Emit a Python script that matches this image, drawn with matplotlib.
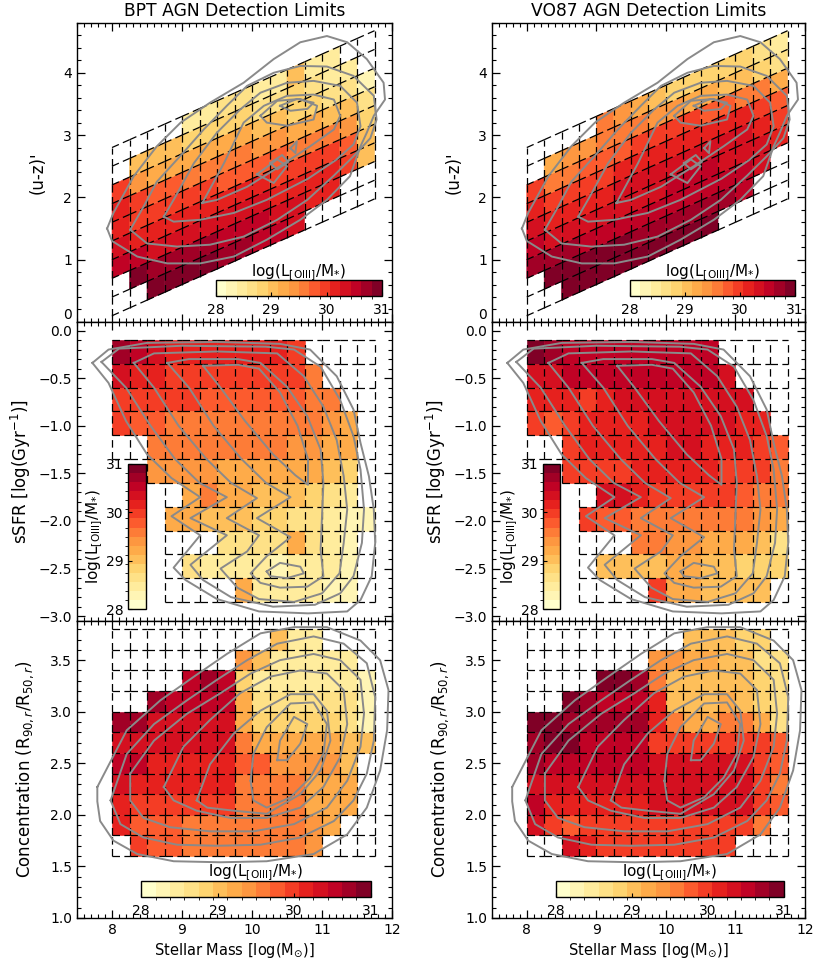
import numpy as np
import matplotlib
matplotlib.use('Agg')
import matplotlib.pyplot as plt
from matplotlib.collections import PolyCollection, LineCollection
from matplotlib.colors import BoundaryNorm
from matplotlib.cm import ScalarMappable
from matplotlib.ticker import MultipleLocator

_ = None

# log(L[OIII]/M*) per bin, 15 mass bins (8.0 -> 11.75, 0.25 dex)
# (u-z)' panels: rows bottom -> top (sheared bins)
uz_bpt = [
    [_, _, 30.9, 30.9, 30.9, 30.9, 30.8, 30.7, 30.6, 30.6, 30.4, _, _, _, _],
    [_, 30.9, 30.8, 30.8, 30.8, 30.7, 30.6, 30.5, 30.5, 30.4, 30.3, 30.2, 30.2, _, _],
    [30.5, 30.6, 30.4, 30.4, 30.4, 30.4, 30.3, 30.3, 30.3, 30.2, 30.2, 30.2, 30.1, 30.0, 29.1],
    [30.3, 30.2, 30.2, 30.2, 30.2, 30.2, 30.1, 30.1, 30.1, 30.0, 30.0, 30.0, 29.9, 29.8, 29.0],
    [30.2, 30.0, 30.0, 29.9, 29.9, 29.9, 29.8, 29.8, 29.8, 29.7, 29.6, 29.6, 29.5, 29.4, 28.9],
    [30.2, 29.9, 29.7, 29.7, 29.6, 29.6, 29.5, 29.5, 29.4, 29.4, 29.3, 29.2, 29.1, 29.0, 28.6],
    [30.0, 29.4, 29.3, 29.3, 29.3, 29.3, 29.2, 29.2, 29.1, 29.0, 28.9, 28.8, 28.7, 28.6, 28.3],
    [_, 29.1, 29.1, 29.0, 28.9, 28.9, 28.8, 28.8, 28.7, 28.7, 28.8, 28.6, 28.5, 28.4, _],
    [_, _, _, _, 28.5, 28.5, 28.6, 28.6, 28.5, 28.5, 29.1, 28.5, 28.4, _, _],
]
uz_vo87 = [
    [_, _, 31.0, 31.0, 31.0, 31.0, 31.0, 30.9, 30.9, 30.9, 30.9, _, _, _, _],
    [_, 30.9, 30.9, 30.9, 30.9, 30.9, 30.8, 30.8, 30.8, 30.8, 30.7, 30.7, 30.6, _, _],
    [30.8, 30.7, 30.7, 30.6, 30.6, 30.6, 30.6, 30.6, 30.6, 30.6, 30.6, 30.5, 30.5, 30.4, _],
    [30.6, 30.4, 30.4, 30.4, 30.4, 30.4, 30.4, 30.4, 30.5, 30.5, 30.5, 30.4, 30.4, 30.3, 30.2],
    [30.4, 30.2, 30.2, 30.2, 30.2, 30.3, 30.3, 30.3, 30.3, 30.3, 30.3, 30.3, 30.3, 30.2, 30.0],
    [30.2, 30.0, 30.0, 30.0, 30.0, 30.1, 30.2, 30.2, 30.2, 30.2, 30.2, 30.2, 30.1, 30.0, 29.8],
    [30.0, 29.6, 29.6, 29.7, 29.7, 29.8, 29.9, 29.9, 29.9, 29.9, 29.8, 29.7, 29.6, 29.5, 29.3],
    [_, 29.2, 29.4, 29.4, 29.5, 29.5, 29.5, 29.4, 29.4, 29.3, 29.2, 29.1, 29.0, 28.9, 28.6],
    [_, _, _, _, 29.5, 29.4, 29.3, 29.1, 28.9, 28.8, 28.8, 28.8, 28.8, 28.7, 28.5],
]

# sSFR panels: rows top (-0.1) -> bottom, 0.25 dex high
ssfr_bpt = [
    [30.7, 30.5, 30.3, 30.1, 30.1, 30.1, 30.1, 30.1, 30.1, 30.1, 30.0, _, _, _, _],
    [30.3, 30.2, 30.1, 30.0, 30.0, 29.9, 29.9, 29.9, 29.9, 29.9, 29.9, 29.5, _, _, _],
    [30.0, 29.9, 29.9, 29.9, 29.9, 29.8, 29.8, 29.8, 29.8, 29.8, 29.8, 29.5, 29.5, _, _],
    [29.9, 29.8, 29.7, 29.6, 29.6, 29.6, 29.6, 29.6, 29.6, 29.6, 29.5, 29.5, 29.4, 29.3, _],
    [_, _, 29.6, 29.5, 29.5, 29.5, 29.5, 29.5, 29.5, 29.5, 29.4, 29.4, 29.3, 29.2, _],
    [_, _, 29.4, 29.4, 29.4, 29.4, 29.3, 29.3, 29.3, 29.3, 29.3, 29.2, 29.0, 28.9, _],
    [_, _, _, _, 29.3, 29.6, 29.3, 29.2, 29.1, 29.1, 29.0, 28.9, 28.7, 28.5, _],
    [_, _, _, 29.3, 29.2, 29.1, 29.0, 29.0, 28.9, 28.8, 28.7, 28.6, 28.5, 28.3, 28.2],
    [_, _, _, _, _, _, 28.7, 28.7, 28.7, 28.7, 29.2, 28.6, 28.4, 28.3, _],
    [_, _, _, _, 28.6, 28.5, 28.5, 28.5, 28.4, 28.3, 28.4, 28.4, 28.4, 28.3, _],
    [_, _, _, _, _, _, _, 29.2, 28.5, 28.5, 28.4, 28.4, 28.3, 28.2, _],
]
ssfr_vo87 = [
    [30.9, 30.8, 30.6, 30.6, 30.6, 30.5, 30.5, 30.5, 30.5, 30.6, 30.6, _, _, _, _],
    [30.4, 30.4, 30.5, 30.5, 30.5, 30.5, 30.5, 30.5, 30.5, 30.5, 30.5, 30.4, _, _, _],
    [30.2, 30.2, 30.2, 30.0, 30.2, 30.3, 30.3, 30.4, 30.4, 30.4, 30.4, 30.4, 30.4, _, _],
    [29.9, 29.8, 30.0, 30.1, 30.1, 30.2, 30.2, 30.3, 30.3, 30.3, 30.3, 30.3, 30.2, 30.2, _],
    [_, _, 30.0, 30.1, 30.1, 30.1, 30.2, 30.2, 30.3, 30.3, 30.2, 30.2, 30.1, 30.0, 29.7],
    [_, _, 29.9, 29.9, 30.0, 30.0, 30.1, 30.1, 30.2, 30.2, 30.1, 30.0, 30.0, 29.9, 29.6],
    [_, _, _, _, 30.3, 30.4, 30.1, 30.0, 30.0, 30.0, 30.0, 29.9, 29.8, 29.6, 29.5],
    [_, _, _, 29.9, 29.7, 29.7, 29.6, 29.6, 29.6, 29.6, 29.6, 29.5, 29.5, 29.4, 29.3],
    [_, _, _, _, _, _, 29.5, 29.5, 29.4, 29.4, 29.3, 29.3, 29.2, 29.1, 28.6],
    [_, _, _, _, 29.0, 29.0, 29.1, 29.1, 29.2, 29.2, 29.0, 29.0, 28.9, 28.8, 28.8],
    [_, _, _, _, _, _, _, 29.9, 29.2, 29.2, 29.1, 29.1, 29.0, 29.0, _],
]
ssfr_grid_first_col = [0, 0, 0, 0, 0, 2, 3, 3, 3, 3, 3]

# concentration panels: rows bottom (1.6) -> top, 0.2 high
conc_bpt = [
    [_, 30.0, 29.8, 29.8, 29.5, 29.5, 29.5, 29.5, 29.5, 29.5, 29.5, 29.4, _, _, _],
    [30.1, 29.7, 29.7, 29.7, 29.5, 29.5, 29.5, 29.5, 29.5, 29.5, 29.5, 29.4, 29.2, _, _],
    [30.1, 29.9, 29.9, 29.9, 29.9, 29.9, 29.9, 29.6, 29.6, 29.6, 29.6, 29.2, 29.2, 29.2, _],
    [30.3, 30.1, 30.1, 30.1, 30.1, 30.1, 30.1, 29.6, 29.6, 29.6, 29.6, 29.2, 29.2, 29.2, _],
    [30.5, 30.5, 30.2, 30.2, 30.2, 30.2, 30.2, 29.8, 29.8, 29.4, 29.4, 29.4, 29.4, 29.1, _],
    [30.4, 30.4, 30.3, 30.3, 30.3, 30.3, 30.3, 29.6, 29.2, 29.2, 29.2, 29.2, 29.2, 29.0, 29.0],
    [30.8, 30.8, 30.4, 30.4, 30.4, 30.4, 30.4, 29.3, 28.9, 28.9, 28.9, 28.9, 28.9, 28.6, 28.3],
    [_, _, 30.7, 30.5, 30.5, 30.5, 30.5, 29.2, 28.7, 28.6, 28.6, 28.6, 28.6, 28.6, 28.2],
    [_, _, _, _, 30.6, 30.8, 30.5, 28.8, 28.5, 28.5, 28.5, 28.5, 28.5, 28.5, 28.3],
    [_, _, _, _, _, _, _, 29.4, 29.1, 28.4, 28.4, 28.4, 28.4, 28.4, _],
    [_, _, _, _, _, _, _, _, _, 29.1, 28.4, 28.4, _, _, _],
]
conc_vo87 = [
    [_, _, 30.4, 30.2, 29.9, 29.9, 29.9, 29.9, 29.9, 29.9, 29.9, 29.9, _, _, _],
    [30.4, 29.9, 29.7, 29.9, 30.0, 30.0, 30.0, 30.0, 30.0, 30.0, 30.0, 30.0, 30.0, 29.5, _],
    [30.5, 30.1, 30.1, 30.1, 30.1, 30.1, 30.1, 30.4, 30.4, 30.4, 30.4, 30.4, 30.4, 29.9, 29.7],
    [30.4, 30.4, 30.3, 30.3, 30.3, 30.3, 30.3, 30.4, 30.4, 30.4, 30.4, 30.4, 30.4, 29.9, 29.6],
    [30.8, 30.5, 30.5, 30.5, 30.5, 30.5, 30.5, 30.3, 30.3, 30.3, 30.3, 30.3, 30.3, 30.0, 29.7],
    [30.8, 30.9, 30.9, 30.6, 30.6, 30.6, 30.6, 30.0, 30.0, 30.0, 30.0, 30.0, 30.0, 30.0, 29.7],
    [31.0, 31.0, 30.7, 30.7, 30.7, 30.7, 30.7, 30.1, 29.5, 29.3, 29.3, 29.6, 29.5, 29.3, 28.7],
    [_, _, 30.9, 30.7, 30.6, 30.6, 30.6, 30.1, 29.1, 29.1, 29.1, 29.2, 29.0, 28.8, 28.6],
    [_, _, _, _, 30.9, 30.9, 30.7, 29.6, 29.0, 29.0, 29.0, 29.0, 29.0, 28.8, 28.6],
    [_, _, _, _, _, _, _, 29.4, 29.4, 29.2, 29.2, 29.1, 29.0, 28.7, 28.6],
    [_, _, _, _, _, _, _, _, _, 29.1, 29.0, 29.0, 28.8, 28.8, _],
]

# galaxy density contours (same sample in both columns)
uz_contours = [
    [(7.93, 1.50), (8.02, 1.75), (8.31, 2.34), (8.64, 2.82), (8.98, 3.20), (9.40, 3.52), (9.88, 3.84),
     (10.31, 4.22), (10.69, 4.49), (11.07, 4.59), (11.36, 4.49), (11.64, 4.22), (11.88, 3.84),
     (11.90, 3.57), (11.74, 3.31), (11.64, 3.04), (11.55, 2.82), (11.40, 2.34), (11.07, 1.96),
     (10.69, 1.64), (10.21, 1.32), (9.74, 1.05), (9.26, 0.94), (8.79, 0.94), (8.36, 1.05), (8.00, 1.30)],
    [(8.26, 1.48), (8.45, 1.85), (8.64, 2.25), (9.02, 2.72), (9.31, 3.09), (9.64, 3.47), (9.93, 3.79),
     (10.31, 4.00), (10.69, 4.11), (11.07, 4.10), (11.45, 3.95), (11.74, 3.63), (11.78, 3.25),
     (11.69, 2.95), (11.45, 2.66), (11.17, 2.35), (10.79, 1.96), (10.36, 1.64), (9.88, 1.37),
     (9.40, 1.24), (8.93, 1.21), (8.50, 1.26)],
    [(8.74, 1.69), (8.90, 2.00), (9.17, 2.55), (9.50, 3.04), (9.83, 3.41), (10.12, 3.68), (10.50, 3.84),
     (10.88, 3.87), (11.26, 3.79), (11.50, 3.52), (11.55, 3.14), (11.45, 2.85), (11.20, 2.60),
     (10.80, 2.30), (10.21, 1.96), (9.74, 1.75), (9.26, 1.64), (8.88, 1.61)],
    [(9.29, 1.91), (9.60, 2.55), (9.88, 3.20), (10.17, 3.47), (10.50, 3.63), (10.88, 3.65), (11.17, 3.57),
     (11.26, 3.31), (11.17, 3.09), (10.83, 2.82), (10.40, 2.50), (9.93, 2.17), (9.50, 1.96)],
    [(10.12, 3.31), (10.36, 3.55), (10.69, 3.58), (10.93, 3.47), (10.88, 3.25), (10.50, 3.15), (10.21, 3.20)],
    [(10.40, 3.47), (10.64, 3.58), (10.88, 3.52), (10.79, 3.42), (10.55, 3.39)],
    [(10.07, 2.37), (10.36, 2.61), (10.50, 2.50), (10.31, 2.23)],
    [(10.26, 2.55), (10.43, 2.68), (10.52, 2.57), (10.36, 2.45)],
    [(10.55, 2.79), (10.64, 2.90), (10.62, 2.71)],
]
ssfr_contours = [
    [(7.72, -0.34), (7.95, -0.20), (8.5, -0.13), (9.5, -0.12), (10.4, -0.14), (10.83, -0.20), (11.21, -0.48),
     (11.45, -0.83), (11.55, -1.18), (11.67, -1.53), (11.74, -1.88), (11.76, -2.23), (11.71, -2.58),
     (11.55, -2.83), (11.36, -2.95), (10.8, -2.97), (10.1, -2.95), (9.5, -2.82), (9.05, -2.62),
     (8.88, -2.49), (9.26, -2.15), (8.85, -1.95), (9.26, -1.75), (8.85, -1.55), (8.5, -1.30),
     (8.2, -0.95), (7.95, -0.55)],
    [(7.85, -0.33), (8.1, -0.19), (9.0, -0.16), (10.2, -0.17), (10.6, -0.20), (10.98, -0.38), (11.26, -0.73),
     (11.45, -1.11), (11.55, -1.46), (11.60, -1.88), (11.57, -2.23), (11.45, -2.58), (11.26, -2.76),
     (10.9, -2.88), (10.3, -2.90), (9.7, -2.80), (9.3, -2.62), (9.12, -2.46), (9.64, -2.15),
     (9.12, -1.97), (9.64, -1.75), (9.25, -1.60), (8.9, -1.35), (8.55, -1.00), (8.2, -0.60)],
    [(8.31, -0.34), (8.6, -0.24), (9.5, -0.22), (10.36, -0.24), (10.74, -0.48), (11.02, -0.80),
     (11.21, -1.15), (11.31, -1.53), (11.36, -1.88), (11.31, -2.23), (11.25, -2.55), (11.0, -2.76),
     (10.6, -2.85), (10.1, -2.82), (9.79, -2.70), (9.55, -2.50), (9.93, -2.32), (10.10, -2.15),
     (9.64, -1.97), (10.07, -1.76), (9.7, -1.60), (9.35, -1.35), (8.95, -1.00), (8.6, -0.60)],
    [(8.79, -0.34), (9.1, -0.30), (9.8, -0.30), (10.12, -0.34), (10.5, -0.59), (10.79, -0.90),
     (10.98, -1.25), (11.02, -1.60), (11.0, -1.95), (10.98, -2.30), (11.02, -2.58), (10.79, -2.69),
     (10.40, -2.70), (10.12, -2.65), (9.98, -2.55), (10.21, -2.37), (10.55, -2.17), (10.07, -1.97),
     (10.55, -1.75), (10.2, -1.60), (9.85, -1.35), (9.45, -1.00), (9.1, -0.60)],
    [(9.3, -0.37), (9.8, -0.36), (10.1, -0.40), (10.4, -0.65), (10.65, -1.00), (10.8, -1.35),
     (10.8, -1.62), (10.62, -1.52), (10.3, -1.30), (9.9, -0.95), (9.55, -0.60)],
    [(10.21, -2.53), (10.40, -2.44), (10.69, -2.48), (10.74, -2.55), (10.5, -2.60), (10.26, -2.58)],
]
conc_contours = [
    [(7.79, 2.27), (8.21, 2.82), (8.69, 3.11), (9.17, 3.34), (9.64, 3.56), (10.12, 3.76), (10.6, 3.82),
     (11.07, 3.82), (11.55, 3.69), (11.83, 3.50), (11.95, 3.21), (11.93, 2.82), (11.83, 2.43),
     (11.64, 2.07), (11.36, 1.81), (10.88, 1.62), (10.21, 1.55), (9.55, 1.54), (8.88, 1.55),
     (8.36, 1.62), (8.02, 1.75), (7.83, 1.94), (7.79, 2.13)],
    [(7.98, 2.14), (8.21, 2.59), (8.60, 2.88), (9.07, 3.11), (9.50, 3.31), (9.93, 3.50), (10.36, 3.66),
     (10.88, 3.73), (11.31, 3.66), (11.64, 3.47), (11.76, 3.14), (11.74, 2.72), (11.64, 2.40),
     (11.45, 2.14), (11.17, 1.94), (10.69, 1.78), (10.12, 1.71), (9.50, 1.70), (8.93, 1.71),
     (8.45, 1.78), (8.12, 1.91)],
    [(8.26, 2.40), (8.60, 2.72), (9.07, 2.98), (9.55, 3.18), (9.98, 3.37), (10.40, 3.50), (10.88, 3.56),
     (11.26, 3.50), (11.55, 3.31), (11.60, 2.98), (11.55, 2.66), (11.36, 2.33), (11.07, 2.07),
     (10.60, 1.91), (10.02, 1.84), (9.40, 1.84), (8.83, 1.88), (8.45, 1.97), (8.26, 2.14)],
    [(8.74, 2.27), (9.02, 2.66), (9.40, 2.92), (9.83, 3.18), (10.26, 3.34), (10.69, 3.40), (11.07, 3.37),
     (11.31, 3.21), (11.36, 2.88), (11.26, 2.56), (11.02, 2.27), (10.69, 2.07), (10.21, 1.97),
     (9.69, 1.97), (9.21, 2.04), (8.88, 2.14)],
    [(9.21, 2.14), (9.40, 2.49), (9.74, 2.79), (10.12, 3.01), (10.55, 3.17), (10.88, 3.17), (11.07, 3.01),
     (11.12, 2.72), (10.98, 2.43), (10.69, 2.20), (10.21, 2.01), (9.74, 2.04), (9.36, 2.07)],
    [(9.98, 2.33), (10.02, 2.59), (10.21, 2.85), (10.55, 3.08), (10.88, 3.09), (11.07, 2.88), (11.02, 2.59),
     (10.83, 2.36), (10.55, 2.17), (10.21, 2.07), (10.02, 2.14)],
    [(10.36, 2.53), (10.40, 2.72), (10.60, 2.95), (10.79, 2.88), (10.69, 2.69), (10.50, 2.53)],
]

titles = ['BPT AGN Detection Limits', 'VO87 AGN Detection Limits']
ylabels = ["(u-z)'", r'sSFR [log(Gyr$^{-1}$)]', r'Concentration (R$_{90,r}$/R$_{50,r}$)']
cbar_label = r'log(L$_{\rm [OIII]}$/M$_{*}$)'
cbar_ticks = [28, 29, 30, 31]

M0, DM, NCOL = 8.0, 0.25, 15


def uz_cell(i, j):
    x0, x1 = M0 + DM * j, M0 + DM * (j + 1)
    b0 = 0.1 + 0.3 * i + 0.5 * (x0 - M0)
    b1 = 0.1 + 0.3 * i + 0.5 * (x1 - M0)
    return [(x0, b0), (x1, b1), (x1, b1 + 0.3), (x0, b0 + 0.3)]


def ssfr_cell(i, j):
    x0, x1 = M0 + DM * j, M0 + DM * (j + 1)
    yt = -0.1 - 0.25 * i
    return [(x0, yt - 0.25), (x1, yt - 0.25), (x1, yt), (x0, yt)]


def conc_cell(i, j):
    x0, x1 = M0 + DM * j, M0 + DM * (j + 1)
    yb = 1.6 + 0.2 * i
    return [(x0, yb), (x1, yb), (x1, yb + 0.2), (x0, yb + 0.2)]


cmap = plt.get_cmap('YlOrRd', 16)
norm = BoundaryNorm(np.linspace(28, 31, 17), 16)

plt.rcParams['font.family'] = 'DejaVu Sans'
plt.rcParams['mathtext.fontset'] = 'dejavusans'

fig = plt.figure(figsize=(8.3, 9.68), dpi=100)

col_x = [0.0928, 0.5928]
col_w = [0.3795, 0.377]
row_y = [0.6674, 0.3585, 0.0517]
row_h = [0.3089, 0.3089, 0.3068]


def draw_panel(ax, values, cell_fn, first_cols, contours):
    polys, vals, segs = [], [], set()
    for i, row in enumerate(values):
        for j, v in enumerate(row):
            if v is not None:
                polys.append(cell_fn(i, j))
                vals.append(v)
        for j in range(first_cols[i], NCOL):
            p = cell_fn(i, j)
            for a, b in [(p[0], p[1]), (p[3], p[2]), (p[0], p[3]), (p[1], p[2])]:
                segs.add((tuple(np.round(a, 4)), tuple(np.round(b, 4))))
    pc = PolyCollection(polys, array=np.array(vals), cmap=cmap, norm=norm,
                        edgecolors='face', linewidths=0.4, zorder=1)
    ax.add_collection(pc)
    lc = LineCollection(sorted(segs), colors='k', linewidths=0.9,
                        linestyles=[(0, (6, 3.5))], zorder=2)
    ax.add_collection(lc)
    for c in contours:
        xs = [p[0] for p in c] + [c[0][0]]
        ys = [p[1] for p in c] + [c[0][1]]
        ax.plot(xs, ys, color='#8a8a8a', lw=1.4, zorder=3)


def style_axes(ax, yticks, minor_y, fmt):
    ax.set_xlim(7.5, 12.0)
    ax.xaxis.set_major_locator(MultipleLocator(1))
    ax.xaxis.set_minor_locator(MultipleLocator(0.1))
    ax.set_yticks(yticks)
    ax.yaxis.set_minor_locator(MultipleLocator(minor_y))
    ax.yaxis.set_major_formatter(fmt)
    ax.tick_params(which='both', direction='in', top=True, right=True, labelsize=10)
    ax.tick_params(which='major', length=6, width=0.9)
    ax.tick_params(which='minor', length=3, width=0.8)
    for s in ax.spines.values():
        s.set_linewidth(1.0)


def add_hbar(ax, rect):
    cax = ax.inset_axes(rect)
    cb = fig.colorbar(ScalarMappable(norm=norm, cmap=cmap), cax=cax,
                      orientation='horizontal', ticks=cbar_ticks)
    cax.tick_params(direction='in', length=3, labelsize=10, pad=5)
    cax.xaxis.set_label_position('top')
    cb.set_label(cbar_label, fontsize=11, labelpad=3)
    cb.outline.set_linewidth(1.0)
    cax.set_zorder(5)


def add_vbar(ax, rect):
    cax = ax.inset_axes(rect)
    cb = fig.colorbar(ScalarMappable(norm=norm, cmap=cmap), cax=cax,
                      orientation='vertical', ticks=cbar_ticks)
    cax.yaxis.set_ticks_position('left')
    cax.yaxis.set_label_position('left')
    cax.tick_params(direction='in', length=3, labelsize=10, pad=3)
    cb.set_label(cbar_label, fontsize=11, labelpad=1)
    cb.outline.set_linewidth(1.0)
    cax.set_zorder(5)


panels = [
    (uz_bpt, ssfr_bpt, conc_bpt),
    (uz_vo87, ssfr_vo87, conc_vo87),
]

for c in range(2):
    uz_vals, ssfr_vals, conc_vals = panels[c]

    ax = fig.add_axes([col_x[c], row_y[0], col_w[c], row_h[0]])
    draw_panel(ax, uz_vals, uz_cell, [0] * 9, uz_contours)
    style_axes(ax, [0, 1, 2, 3, 4], 0.2, '{x:.0f}')
    ax.set_ylim(0, 4.8)
    ax.get_yticklabels()[0].set_verticalalignment('bottom')
    ax.tick_params(labelbottom=False)
    ax.set_title(titles[c], fontsize=12.3, pad=5)
    ax.set_ylabel(ylabels[0], fontsize=12)
    ax.yaxis.set_label_coords(-0.095, 0.5)
    add_hbar(ax, [0.441, 0.087, 0.527, 0.053])

    ax = fig.add_axes([col_x[c], row_y[1], col_w[c], row_h[1]])
    draw_panel(ax, ssfr_vals, ssfr_cell, ssfr_grid_first_col, ssfr_contours)
    style_axes(ax, [0.0, -0.5, -1.0, -1.5, -2.0, -2.5, -3.0], 0.1, '{x:.1f}')
    ax.set_ylim(-3.05, 0.09)
    ax.tick_params(labelbottom=False)
    ax.set_ylabel(ylabels[1], fontsize=12)
    ax.yaxis.set_label_coords(-0.14, 0.5)
    add_vbar(ax, [0.162, 0.039, 0.056, 0.486])

    ax = fig.add_axes([col_x[c], row_y[2], col_w[c], row_h[2]])
    draw_panel(ax, conc_vals, conc_cell, [0] * 11, conc_contours)
    style_axes(ax, [1.0, 1.5, 2.0, 2.5, 3.0, 3.5], 0.1, '{x:.1f}')
    ax.set_ylim(1.0, 3.88)
    ax.set_ylabel(ylabels[2], fontsize=12)
    ax.yaxis.set_label_coords(-0.13, 0.5)
    ax.set_xlabel(r'Stellar Mass [log(M$_{\odot}$)]', fontsize=10.5, labelpad=3)
    add_hbar(ax, [0.204, 0.072, 0.728, 0.054])

fig.savefig('out.png', dpi=100)
